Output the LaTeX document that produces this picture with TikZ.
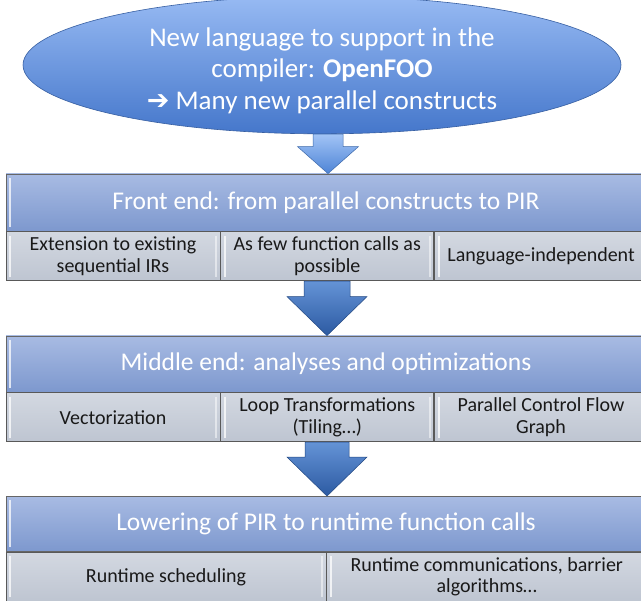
\documentclass[tikz,border=0pt]{standalone}
\usepackage{fontspec}
\setmainfont{Carlito}
\newfontfamily\symfont{DejaVu Sans}
\usetikzlibrary{calc}
\usetikzlibrary{shapes.geometric}
\usetikzlibrary{positioning}

\definecolor{hdrtop}{HTML}{A8BBE3}
\definecolor{hdrbot}{HTML}{7D98CE}
\definecolor{celltop}{HTML}{D3D8E1}
\definecolor{cellbot}{HTML}{BEC5D1}
\definecolor{elltop}{HTML}{97BAF3}
\definecolor{ellbot}{HTML}{4577CB}
\definecolor{arrlight}{HTML}{A2C4F6}
\definecolor{arrlightdk}{HTML}{4E84D6}
\definecolor{arrtop}{HTML}{6493D6}
\definecolor{arrbot}{HTML}{2C5AA2}

\tikzset{bevel/.style = {path picture={
                           \draw [white, opacity=0.75, line width=2pt]
                             ([xshift=4pt, yshift=-4pt]path picture bounding box.north west)
                             -- ([xshift=4pt, yshift=4pt]path picture bounding box.south west);
                           \draw [white, opacity=0.5, line width=1.5pt]
                             ([xshift=-4pt, yshift=-4pt]path picture bounding box.north east)
                             -- ([xshift=-4pt, yshift=4pt]path picture bounding box.south east);}}}
\tikzset{hdr/.style = {rectangle, draw=gray!80!black, line width=0.8pt, bevel,
                       top color=hdrtop, bottom color=hdrbot, text=white,
                       minimum width=640pt, font=\fontsize{25.5}{30}\selectfont}}
\tikzset{cell/.style = {rectangle, draw=gray!70!black, line width=0.8pt, bevel,
                        top color=celltop, bottom color=cellbot, text=black!90,
                        align=center, inner sep=0pt, anchor=north west,
                        font=\fontsize{20}{21.5}\selectfont}}
\tikzset{blockarrow/.style n args = {3}{to path={let \p1 = (\tikztostart), \p2 = (\tikztotarget) in
           (\x2-#1, \y1) -- (\x2-#1, \y2+#3) -- (\x2-#2, \y2+#3) -- (\x2, \y2)
           -- (\x2+#2, \y2+#3) -- (\x2+#1, \y2+#3) -- (\x2+#1, \y1) -- cycle}}}

\begin{document}
\begin{tikzpicture}[x=1pt, y=-1pt]
      \clip (0, 0) rectangle (641, 601);
      \fill [white] (0, 0) rectangle (641, 601);

      % source language
      \node [ellipse, draw=ellbot!80!black, line width=0.6pt, top color=elltop, bottom color=ellbot,
             minimum width=598pt, minimum height=114pt, inner sep=0pt, text=white, align=center,
             font=\fontsize{27}{31.5}\selectfont] (lang) at (322, 65)
            {\rule{0pt}{30pt}New language to support in the\\compiler: \textbf{OpenFOO}\\{\symfont ➔} Many new parallel constructs};

      % front end
      \node [hdr, minimum height=57pt] (front) at (326, 202.5) {Front end: from parallel constructs to PIR};
      \node [cell, minimum width=214pt, minimum height=49pt] (frontA) at (front.south west)
            {Extension to existing\\sequential IRs};
      \node [cell, minimum width=213pt, minimum height=49pt] (frontB) at (frontA.north east)
            {As few function calls as\\possible};
      \node [cell, minimum width=213pt, minimum height=49pt] (frontC) at (frontB.north east)
            {Language-independent};

      % middle end
      \node [hdr, minimum height=56pt] (middle) at (326, 364) {Middle end: analyses and optimizations};
      \node [cell, minimum width=214pt, minimum height=49pt] (middleA) at (middle.south west)
            {Vectorization};
      \node [cell, minimum width=213pt, minimum height=49pt] (middleB) at (middleA.north east)
            {Loop Transformations\\(Tiling…)};
      \node [cell, minimum width=213pt, minimum height=49pt] (middleC) at (middleB.north east)
            {Parallel Control Flow\\Graph};

      % lowering
      \node [hdr, minimum height=55pt] (lower) at (326, 524) {Lowering of PIR to runtime function calls};
      \node [cell, minimum width=320pt, minimum height=49pt] (lowerA) at (lower.south west)
            {Runtime scheduling};
      \node [cell, minimum width=320pt, minimum height=49pt] (lowerB) at (lowerA.north east)
            {Runtime communications, barrier\\algorithms…};

      % arrows between the stages
      \path [draw=arrlightdk!80!black, line width=0.5pt, top color=arrlight, bottom color=arrlightdk]
            (lang.south) to [blockarrow={15pt}{30.5pt}{27pt}] ($(front.north)+(2, 0)$);
      \path [draw=arrbot!80!black, line width=0.5pt, top color=arrtop, bottom color=arrbot]
            (frontB.south) to [blockarrow={23pt}{40pt}{39pt}] ($(middle.north)+(1, 0)$);
      \path [draw=arrbot!80!black, line width=0.5pt, top color=arrtop, bottom color=arrbot]
            (middleB.south) to [blockarrow={22pt}{40pt}{39pt}] ($(lower.north)+(1, 0)$);
\end{tikzpicture}
\end{document}
